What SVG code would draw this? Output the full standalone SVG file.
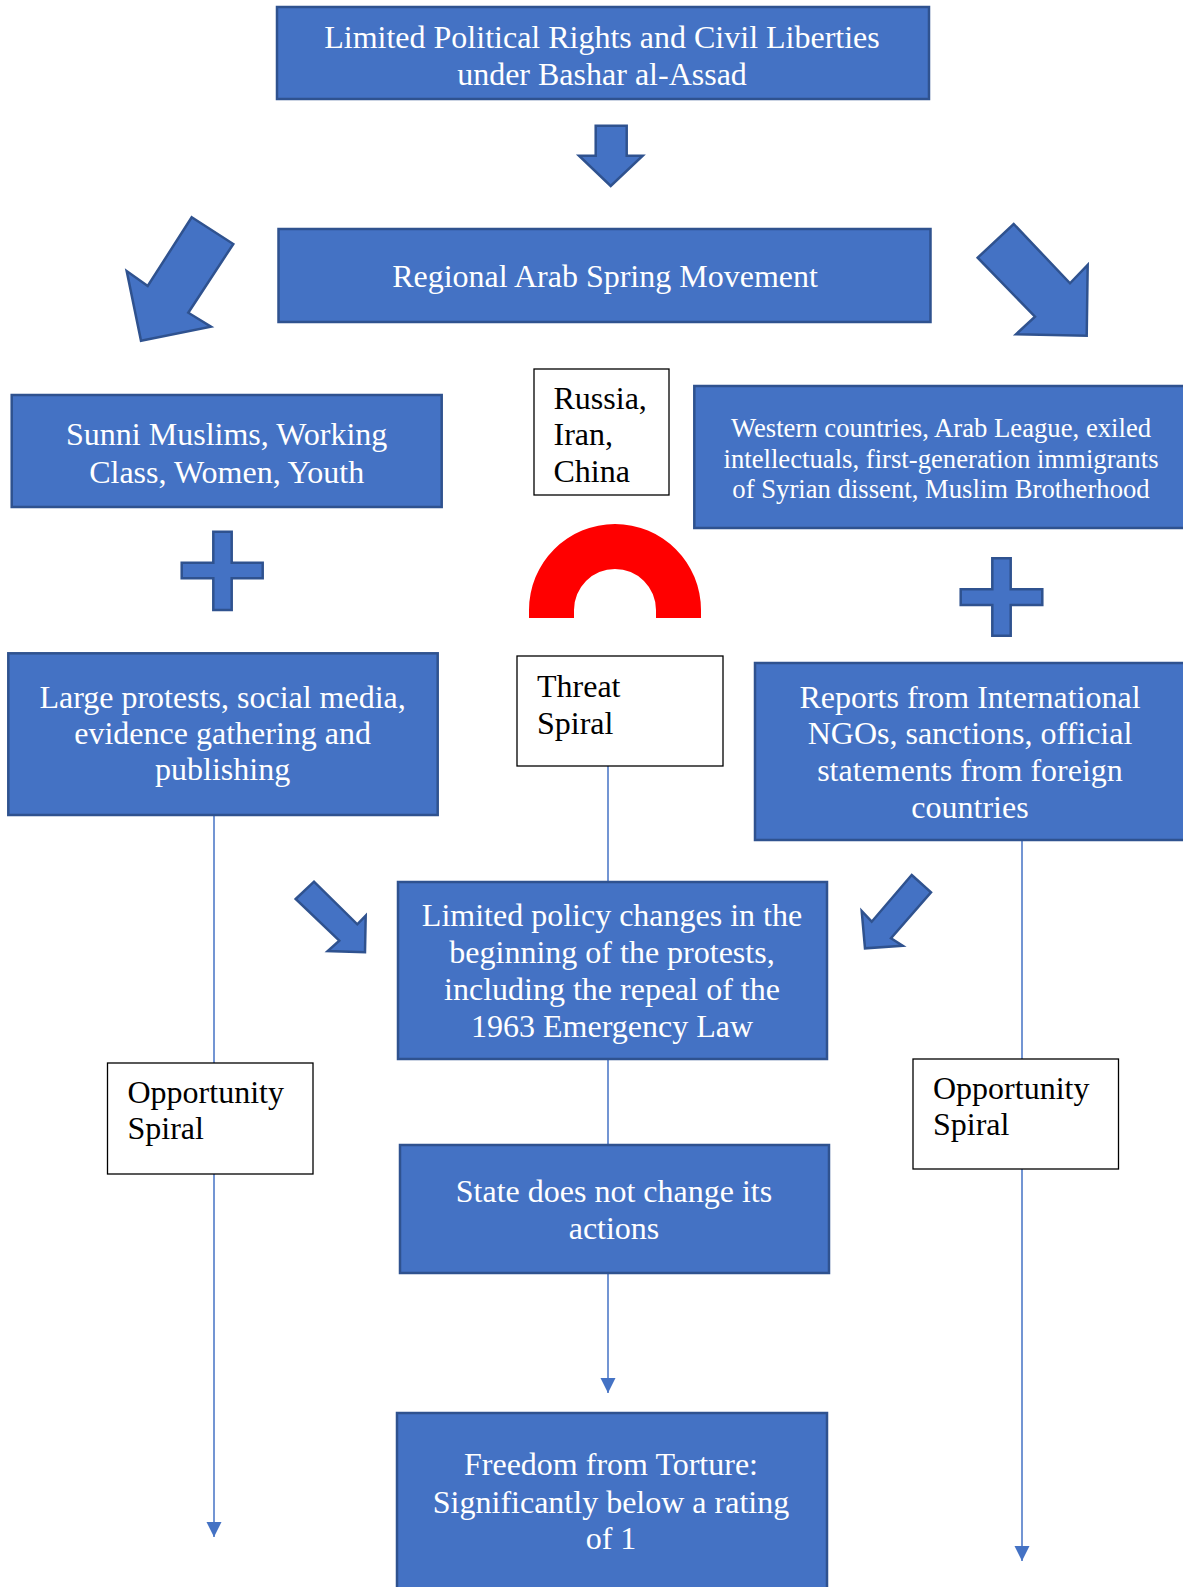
<svg xmlns="http://www.w3.org/2000/svg" width="1183" height="1587" viewBox="0 0 1183 1587">
<defs>
<style>
.box{fill:#4472C4;stroke:#2F528F;stroke-width:2.5}
.wbox{fill:#FFFFFF;stroke:#000000;stroke-width:1.3}
.shape{fill:#4472C4;stroke:#2F528F;stroke-width:2.5;stroke-linejoin:miter}
.t{font-family:"Liberation Serif","Times New Roman",serif;font-size:32px;fill:#FFFFFF;text-anchor:middle}
.tb{font-family:"Liberation Serif","Times New Roman",serif;font-size:32px;fill:#000000}
.conn{stroke:#4472C4;stroke-width:1.5;fill:none}
</style>
<marker id="ah" markerUnits="userSpaceOnUse" markerWidth="16" markerHeight="16" refX="15" refY="7.5" orient="auto">
<path d="M0,0 L15,7.5 L0,15 Z" fill="#4472C4"/>
</marker>
</defs>
<rect width="1183" height="1587" fill="#FFFFFF"/>

<g id="connectors">
<line class="conn" x1="608" y1="766" x2="608" y2="882"/>
<line class="conn" x1="608" y1="1059" x2="608" y2="1145"/>
<line class="conn" x1="608" y1="1273" x2="608" y2="1393" marker-end="url(#ah)"/>
<line class="conn" x1="214" y1="815" x2="214" y2="1063"/>
<line class="conn" x1="214" y1="1174" x2="214" y2="1537" marker-end="url(#ah)"/>
<line class="conn" x1="1022" y1="840" x2="1022" y2="1059"/>
<line class="conn" x1="1022" y1="1169" x2="1022" y2="1561" marker-end="url(#ah)"/>
</g>

<g id="arrows">
<polygon class="shape" points="595.7,125.7 626.7,125.7 626.7,155.7 642.7,155.7 610.7,186 579,155.7 595.7,155.7"/>
<polygon class="shape" points="191.7,217.3 233.3,244 188.3,312.7 211,326.7 141,340.7 126.7,271 147.7,286"/>
<polygon class="shape" points="977.7,257.7 1013.7,224 1070,283.3 1087.7,265 1086.7,335.7 1016,334.3 1035,316.7"/>
<polygon class="shape" points="295.7,899 314,881.7 357.3,924.3 365.7,915.7 365,952.3 327.7,951 339.3,940.7"/>
<polygon class="shape" points="911.7,875 931,892.3 891,938.3 902.7,945.7 865,948.3 861.7,911 871.7,921.7"/>
</g>

<g id="plus-left">
<path class="shape" d="M213.3,531.7 H231.7 V562.7 H262.7 V578.3 H231.7 V610 H213.3 V578.3 H181.7 V562.7 H213.3 Z"/>
</g>
<g id="plus-right">
<path class="shape" d="M992.3,558.3 H1010.7 V589.3 H1042.3 V605 H1010.7 V635.7 H992.3 V605 H960.7 V589.3 H992.3 Z"/>
</g>

<g id="block-arc">
<path d="M529,618 L529,610 A86,86 0 0 1 701,610 L701,618 L656,618 L656,610 A41,41 0 0 0 574,610 L574,618 Z" fill="#FF0000"/>
</g>

<g id="top">
<rect class="box" x="277" y="7" width="652" height="92"/>
<text class="t" x="602" y="48">Limited Political Rights and Civil Liberties</text>
<text class="t" x="602" y="85">under Bashar al-Assad</text>
</g>

<g id="regional">
<rect class="box" x="278.5" y="229" width="652" height="93"/>
<text class="t" x="605" y="287">Regional Arab Spring Movement</text>
</g>

<g id="sunni">
<rect class="box" x="11.7" y="395" width="430" height="112"/>
<text class="t" x="226.7" y="444.5">Sunni Muslims, Working</text>
<text class="t" x="226.7" y="482.5">Class, Women, Youth</text>
</g>

<g id="russia">
<rect class="wbox" x="534" y="369" width="135" height="126"/>
<text class="tb" x="553.5" y="409">Russia,</text>
<text class="tb" x="553.5" y="445">Iran,</text>
<text class="tb" x="553.5" y="482">China</text>
</g>

<g id="western">
<rect class="box" x="694.3" y="386" width="492" height="142"/>
<text class="t" style="font-size:26.7px" x="941" y="437">Western countries, Arab League, exiled</text>
<text class="t" style="font-size:26.7px" x="941" y="468">intellectuals, first-generation immigrants</text>
<text class="t" style="font-size:26.7px" x="941" y="498">of Syrian dissent, Muslim Brotherhood</text>
</g>

<g id="protests">
<rect class="box" x="8.3" y="653.3" width="429.4" height="161.7"/>
<text class="t" x="222.6" y="707.7">Large protests, social media,</text>
<text class="t" x="222.6" y="744.3">evidence gathering and</text>
<text class="t" x="222.6" y="780.3">publishing</text>
</g>

<g id="threat">
<rect class="wbox" x="517" y="656" width="206" height="110"/>
<text class="tb" x="537" y="697">Threat</text>
<text class="tb" x="537" y="734">Spiral</text>
</g>

<g id="reports">
<rect class="box" x="755" y="663" width="432" height="177"/>
<text class="t" x="970" y="708">Reports from International</text>
<text class="t" x="970" y="744">NGOs, sanctions, official</text>
<text class="t" x="970" y="781">statements from foreign</text>
<text class="t" x="970" y="818">countries</text>
</g>

<g id="policy">
<rect class="box" x="398" y="882" width="429" height="177"/>
<text class="t" x="612" y="926">Limited policy changes in the</text>
<text class="t" x="612" y="963">beginning of the protests,</text>
<text class="t" x="612" y="1000">including the repeal of the</text>
<text class="t" x="612" y="1037">1963 Emergency Law</text>
</g>

<g id="opp-left">
<rect class="wbox" x="107.5" y="1063" width="205.5" height="111"/>
<text class="tb" x="127.5" y="1103">Opportunity</text>
<text class="tb" x="127.5" y="1139">Spiral</text>
</g>

<g id="opp-right">
<rect class="wbox" x="913" y="1059" width="205.5" height="110"/>
<text class="tb" x="933" y="1099">Opportunity</text>
<text class="tb" x="933" y="1135">Spiral</text>
</g>

<g id="state">
<rect class="box" x="400" y="1145" width="429" height="128"/>
<text class="t" x="614" y="1202">State does not change its</text>
<text class="t" x="614" y="1239">actions</text>
</g>

<g id="freedom">
<rect class="box" x="397" y="1413" width="430" height="200"/>
<text class="t" x="611" y="1475">Freedom from Torture:</text>
<text class="t" x="611" y="1513">Significantly below a rating</text>
<text class="t" x="611" y="1549">of 1</text>
</g>
</svg>
